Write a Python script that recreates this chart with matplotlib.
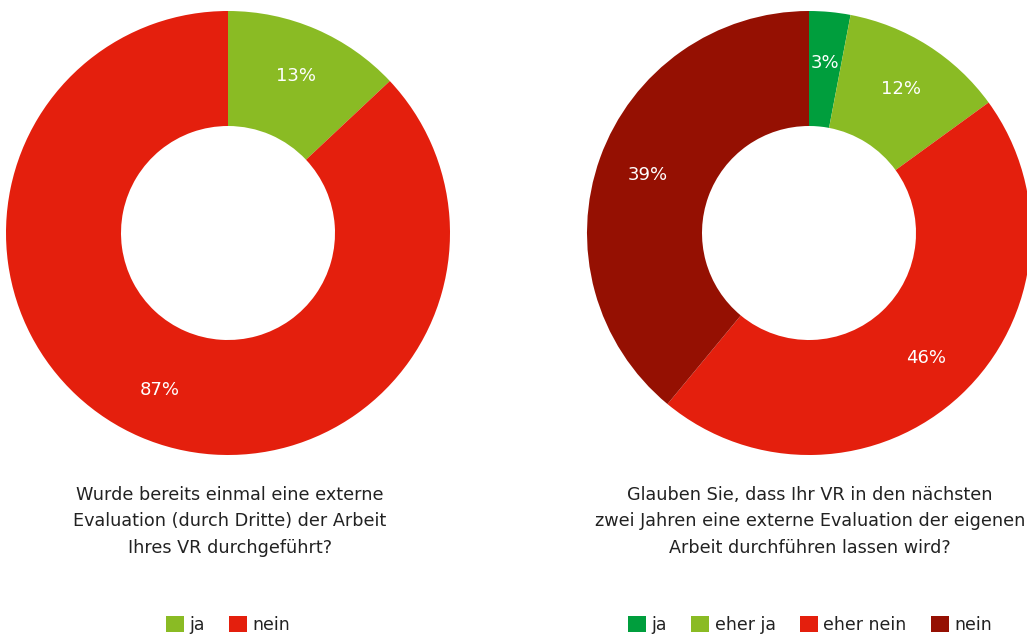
import matplotlib.pyplot as plt
from matplotlib.patches import Patch

# ==================== DATA ====================
left_labels = ["ja", "nein"]
left_values = [13, 87]
left_colors = ["#8abb24", "#e41f0d"]
left_title = "Wurde bereits einmal eine externe\nEvaluation (durch Dritte) der Arbeit\nIhres VR durchgeführt?"

right_labels = ["ja", "eher ja", "eher nein", "nein"]
right_values = [3, 12, 46, 39]
right_colors = ["#009e3d", "#8abb24", "#e41f0d", "#951002"]
right_title = "Glauben Sie, dass Ihr VR in den nächsten\nzwei Jahren eine externe Evaluation der eigenen\nArbeit durchführen lassen wird?"

# ==================== FIGURE ====================
W, H = 1027, 637
fig = plt.figure(figsize=(W / 100, H / 100), dpi=100)
plt.rcParams['font.family'] = ['DejaVu Sans']

R = 222      # outer radius in px
HOLE = 107   # inner radius in px


def donut(cx, cy, values, colors):
    ax = fig.add_axes([(cx - R) / W, 1 - (cy + R) / H, 2 * R / W, 2 * R / H])
    ax.pie(values, colors=colors, startangle=90, counterclock=False,
           radius=1, wedgeprops=dict(width=1 - HOLE / R, linewidth=0),
           autopct=lambda p: f"{p:.0f}%", pctdistance=0.77,
           textprops=dict(color="white", fontsize=13))
    ax.set_xlim(-1, 1)
    ax.set_ylim(-1, 1)
    ax.set_aspect("equal")
    ax.axis("off")
    return ax


donut(228, 233, left_values, left_colors)
donut(809, 233, right_values, right_colors)

# ==================== TITLES ====================
for cx, title in [(230, left_title), (810, right_title)]:
    fig.text(cx / W, 1 - 486 / H, title, ha="center", va="top",
             fontsize=12.7, color="#222222", linespacing=1.6)

# ==================== LEGENDS ====================
for cx, labels, colors in [(228, left_labels, left_colors),
                           (810, right_labels, right_colors)]:
    handles = [Patch(facecolor=c, edgecolor="none") for c in colors]
    fig.legend(handles, labels, loc="center", ncol=len(labels),
               bbox_to_anchor=(cx / W, 1 - 625 / H), frameon=False,
               fontsize=12.5, handlelength=1.05, handleheight=1.05,
               handletextpad=0.3, columnspacing=1.4, labelcolor="#222222")

fig.savefig("out.png", dpi=100)
